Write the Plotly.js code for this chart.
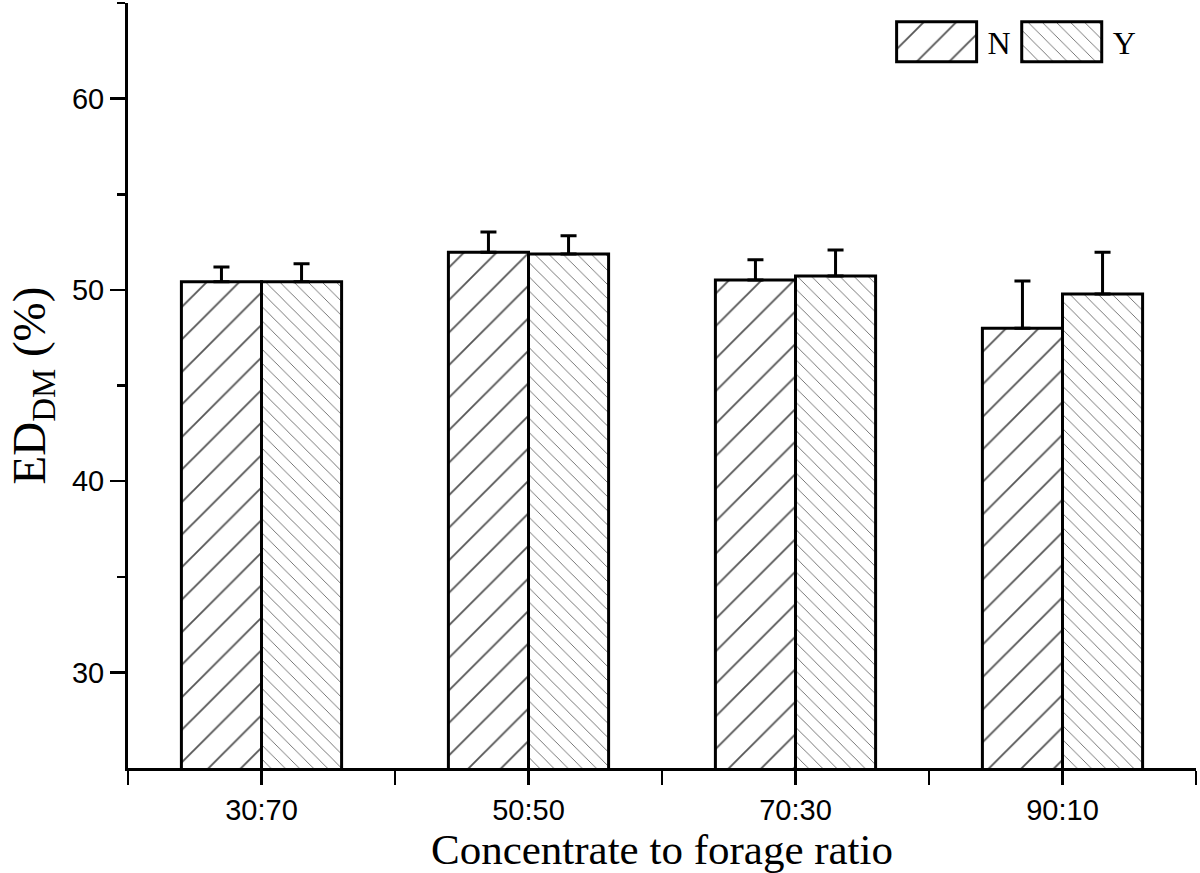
<!DOCTYPE html>
<html>
<head>
<meta charset="utf-8">
<script src="https://cdn.plot.ly/plotly-3.0.1.min.js"></script>
<style>html,body{margin:0;padding:0;background:#fff;}#chart{width:1200px;height:873px;}</style>
</head>
<body>
<div id="chart"></div>
<script>
const categories = ["30:70", "50:50", "70:30", "90:10"];
const seriesNames = ["N", "Y"];
const valuesN = [50.43, 51.97, 50.52, 47.99];
const errorsN = [0.76, 1.05, 1.05, 2.48];
const valuesY = [50.43, 51.88, 50.73, 49.79];
const errorsY = [0.93, 0.95, 1.36, 2.18];
const yTickVals = [30, 40, 50, 60];
const yMinorTickVals = [35, 45, 55, 65];

const xPos = categories.map((c, i) => i);
const xMinorTickVals = [];
for (let i = 0; i <= categories.length; i++) xMinorTickVals.push(i - 0.5);

function bar(name, vals, errs, shape, size) {
  return {
    type: "bar", name: name, x: xPos, y: vals,
    base: 0,
    marker: {
      color: "white",
      line: {color: "black", width: 3},
      pattern: {shape: shape, size: size, solidity: 0.08, fgcolor: "#555", bgcolor: "white", fillmode: "replace"}
    },
    error_y: {type: "data", symmetric: false, array: errs, arrayminus: errs.map(() => 0),
              color: "black", thickness: 3, width: 8}
  };
}

const data = [
  bar(seriesNames[0], valuesN, errorsN, "/", 23),
  bar(seriesNames[1], valuesY, errorsY, "\\", 10)
];

const layout = {
  width: 1200, height: 873,
  margin: {l: 128, r: 4, t: 3, b: 105},
  paper_bgcolor: "white", plot_bgcolor: "white",
  barmode: "group", bargap: 0.4, bargroupgap: 0,
  showlegend: true,
  legend: {orientation: "h", x: 0.715, y: 0.985, xanchor: "left", yanchor: "top",
           font: {family: "Liberation Serif, Times New Roman, serif", size: 32, color: "black"},
           bgcolor: "rgba(0,0,0,0)", itemwidth: 80},
  xaxis: {
    range: [-0.5, 3.5], tickmode: "array", tickvals: xPos, ticktext: categories,
    ticks: "outside", ticklen: 14, tickwidth: 2.5, tickcolor: "black",
    minor: {tickmode: "array", tickvals: xMinorTickVals, ticks: "outside", ticklen: 14, tickwidth: 2.5, tickcolor: "black"},
    showline: true, linecolor: "black", linewidth: 3, showgrid: false, zeroline: false,
    tickfont: {family: "Liberation Sans, Arial, sans-serif", size: 29, color: "black"},
    title: {text: "Concentrate to forage ratio", standoff: 4,
            font: {family: "Liberation Serif, Times New Roman, serif", size: 43, color: "black"}}
  },
  yaxis: {
    range: [25, 65], tickmode: "array", tickvals: yTickVals,
    ticks: "outside", ticklen: 15, tickwidth: 2.5, tickcolor: "black",
    minor: {tickmode: "array", tickvals: yMinorTickVals, ticks: "outside", ticklen: 8, tickwidth: 2.5, tickcolor: "black"},
    showline: true, linecolor: "black", linewidth: 3, showgrid: false, zeroline: false,
    tickfont: {family: "Liberation Sans, Arial, sans-serif", size: 29, color: "black"},
    title: {text: "ED<sub>DM</sub> (%)", standoff: 12,
            font: {family: "Liberation Serif, Times New Roman, serif", size: 47, color: "black"}}
  }
};

Plotly.newPlot("chart", data, layout, {displayModeBar: false, staticPlot: true}).then(function (gd) {
  const barTraces = gd.querySelectorAll(".barlayer g.trace");
  // enlarge legend swatches to match the reference's boxed legend keys
  gd.querySelectorAll(".legend g.traces").forEach(function (g, i) {
    const p = g.querySelector(".legendpoints path");
    if (p) {
      p.setAttribute("d", "M40,20H-40V-20H40Z");
      p.style.strokeWidth = "3px";
      const bp = barTraces[i] ? barTraces[i].querySelector("path") : null;
      if (bp && bp.style.fill) p.style.fill = bp.style.fill;
    }
    const t = g.querySelector("text.legendtext");
    if (t) t.setAttribute("x", parseFloat(t.getAttribute("x") || "0") + 6);
    if (i > 0) {
      const tr = g.getAttribute("transform") || "";
      const m = tr.match(/translate\(\s*([-\d.]+)[ ,]+([-\d.]+)\s*\)/);
      if (m) g.setAttribute("transform", "translate(" + (parseFloat(m[1]) + 7 * i) + "," + m[2] + ")");
    }
  });
  gd.querySelectorAll(".legend .scrollbox, .legend [clip-path]").forEach(function (el) {
    el.removeAttribute("clip-path");
  });
});
</script>
</body>
</html>
